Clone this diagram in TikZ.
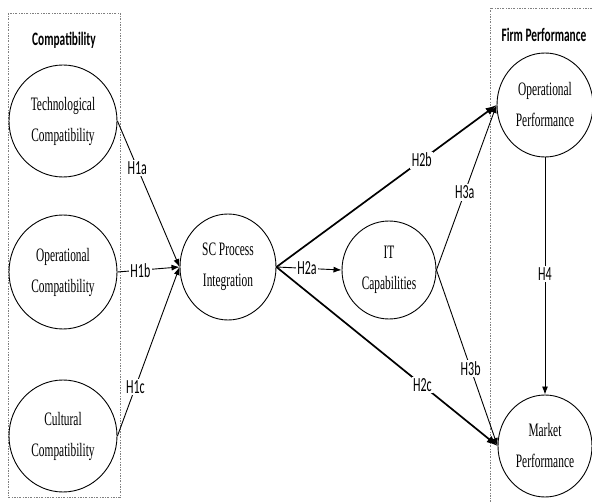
\documentclass[tikz,border=0pt]{standalone}
\usepackage{fontspec}
\usetikzlibrary{shapes.geometric,arrows.meta}
\newfontfamily\circfont[FakeStretch=0.6]{Liberation Serif}
\newfontfamily\labfont[FakeStretch=0.6]{Carlito}

\begin{document}
\begin{tikzpicture}[x=1pt,y=-1pt,
    construct/.style={ellipse,draw,line width=0.9pt,inner sep=0pt,align=center,
        font=\circfont\fontsize{19}{31}\selectfont},
    hyp/.style={fill=white,inner sep=1.5pt,font=\labfont\fontsize{20}{22}\selectfont},
    grouptitle/.style={font=\labfont\bfseries\fontsize{19}{22}\selectfont},
    link/.style={line width=0.9pt,-{Latex[length=8pt,width=6pt]}},
    mainlink/.style={line width=1.7pt,-{Latex[length=11pt,width=8pt]}},
    groupbox/.style={gray,line width=0.6pt,dash pattern=on 2pt off 1.5pt on 0.5pt off 1.5pt}]
    \useasboundingbox (0,0) rectangle (592,502);

    % groups
    \draw[groupbox] (8,13) rectangle (120,497);
    \draw[groupbox] (592,8) -- (490,8) -- (490,502);
    \node[grouptitle] (compat) at (64,40) {Compatibility};
    \node[grouptitle] (firm) at (544,35) {Firm Performance};

    % constructs
    \node[construct,minimum width=108pt,minimum height=112pt] (tech) at (63,121) {Technological\\Compatibility};
    \node[construct,minimum width=108pt,minimum height=114pt] (opcomp) at (63,272) {Operational\\Compatibility};
    \node[construct,minimum width=108pt,minimum height=112pt] (cult) at (63,436) {Cultural\\Compatibility};
    \node[construct,minimum width=96pt,minimum height=106pt] (sc) at (228,267) {SC Process\\Integration};
    \node[construct,minimum width=94pt,minimum height=98pt] (it) at (389,270) {IT\\Capabilities};
    \node[construct,minimum width=96pt,minimum height=104pt] (opperf) at (545,105) {Operational\\Performance};
    \node[construct,minimum width=94pt,minimum height=102pt] (market) at (545,446) {Market\\Performance};

    % hypotheses
    \draw[link] (tech.east) -- node[hyp,pos=0.32] {H1a} (sc.west);
    \draw[link] (opcomp.east) -- node[hyp,pos=0.37] {H1b} (sc.west);
    \draw[link] (cult.east) -- node[hyp,pos=0.29] {H1c} (sc.west);
    \draw[link] (sc.east) -- node[hyp,pos=0.47] {H2a} (it.west);
    \draw[mainlink] (sc.east) -- node[hyp,pos=0.66] {H2b} (opperf.west);
    \draw[mainlink] (sc.east) -- node[hyp,pos=0.66] {H2c} (market.west);
    \draw[link] (it.east) -- node[hyp,pos=0.47] {H3a} (opperf.west);
    \draw[link] (it.east) -- node[hyp,pos=0.56] {H3b} (market.west);
    \draw[link] (opperf.south) -- node[hyp,pos=0.49] {H4} (market.north);
\end{tikzpicture}
\end{document}
